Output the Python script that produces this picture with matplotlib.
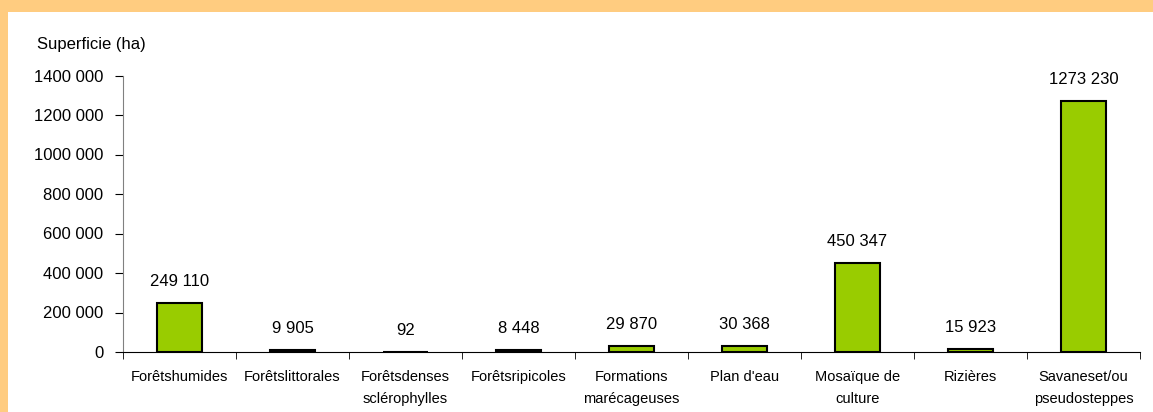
import matplotlib.pyplot as plt
from matplotlib.patches import Rectangle

plt.rcParams['font.family'] = ['Liberation Sans', 'DejaVu Sans']

# Données
categories = ["Forêtshumides", "Forêtslittorales", "Forêtsdenses\nsclérophylles",
              "Forêtsripicoles", "Formations\nmarécageuses", "Plan d'eau",
              "Mosaïque de\nculture", "Rizières", "Savaneset/ou\npseudosteppes"]
superficie = [249110, 9905, 92, 8448, 29870, 30368, 450347, 15923, 1273230]
yticks = [0, 200000, 400000, 600000, 800000, 1000000, 1200000, 1400000]

def fmt(v):
    # format façon Excel : seul le dernier groupe de milliers est séparé
    if v < 1000:
        return str(v)
    return f"{v // 1000} {v % 1000:03d}"

fig = plt.figure(figsize=(11.53, 4.12), dpi=100)
fig.patch.set_facecolor('#FFCC80')
fig.patches.append(Rectangle((8/1153, 0), 1, 1 - 12/412, transform=fig.transFigure,
                             facecolor='white', edgecolor='none', zorder=-1))

ax = fig.add_axes([123/1153, 1 - 352/412, (1140 - 123)/1153, (352 - 75.5)/412])
ax.set_facecolor('none')

x = range(len(categories))
bars = ax.bar(x, superficie, width=0.39, color='#99CC00', edgecolor='black', linewidth=1.5)
ax.bar_label(bars, labels=[fmt(v) for v in superficie], padding=10, fontsize=12)

ax.set_xlim(-0.5, len(categories) - 0.5)
ax.set_ylim(0, 1400000)
ax.set_yticks(yticks)
ax.set_yticklabels([fmt(v) for v in yticks], fontsize=12)
ax.tick_params(axis='y', length=6, pad=8, color='black')

ax.set_xticks(list(x))
ax.set_xticklabels(categories, fontsize=10.5, linespacing=1.75)
ax.set_xticks([i - 0.5 for i in range(len(categories) + 1)], minor=True)
ax.tick_params(axis='x', which='major', length=0, pad=13)
ax.tick_params(axis='x', which='minor', length=5, color='black')

for side in ['top', 'right']:
    ax.spines[side].set_visible(False)
ax.spines['left'].set_color('#808080')
ax.spines['bottom'].set_color('black')

fig.text(37/1153, 1 - 45/412, "Superficie (ha)", fontsize=12, va='center', ha='left')

fig.savefig('out.png', dpi=100, facecolor=fig.get_facecolor())
